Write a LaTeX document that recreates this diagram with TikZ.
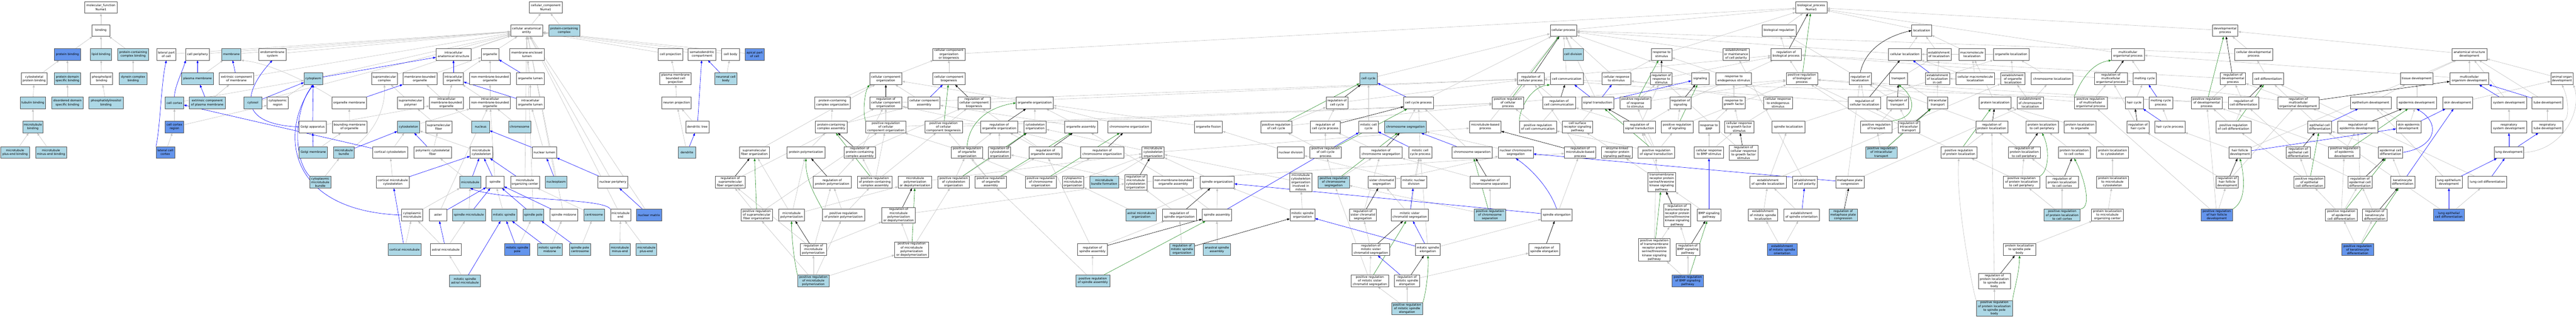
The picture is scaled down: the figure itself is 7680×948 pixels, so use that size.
\documentclass[tikz,border=0pt]{standalone}
\usepackage{fontspec}
\setmainfont{DejaVu Sans}
\usepackage{xcolor}
\usepackage{tikz}
\usetikzlibrary{shapes,arrows}
\usetikzlibrary{arrows.meta}
\definecolor{golightblue}{HTML}{ADD8E6}
\definecolor{gocornflower}{HTML}{6495ED}
\definecolor{isagray}{HTML}{C0C0C0}
\definecolor{posgreen}{HTML}{228B22}
\definecolor{termline}{HTML}{505050}
\pgfdeclarelayer{background}
\pgfsetlayers{background,main}
\begin{document}
\begin{tikzpicture}[x=1pt,y=-1pt]
        \tikzstyle{goterm} = [rectangle, draw=termline, line width=1pt, fill=white, align=center, inner xsep=1pt, inner ysep=2pt, minimum height=35pt, font=\fontsize{9}{11}\selectfont]
        \tikzstyle{golight} = [goterm, fill=golightblue]
        \tikzstyle{gocorn} = [goterm, fill=gocornflower]
        \tikzstyle{isa} = [draw=isagray, line width=0.9pt, -{Triangle[length=8pt,width=6pt]}]
        \tikzstyle{partof} = [isa, draw=blue]
        \tikzstyle{regl} = [isa, draw=black]
        \tikzstyle{posregl} = [isa, draw=posgreen]
        \tikzset{wd/.style={minimum width=#1pt}}
        \useasboundingbox (0,0) rectangle (7680,948);

        \node [goterm, wd=96] (mf) at (301,22) {molecular\_function\\Numa1};
        \node [goterm, wd=53] (binding) at (301,91) {binding};
        \node [gocorn, wd=77] (protbind) at (201,162) {protein binding};
        \node [golight, wd=63] (lipidbind) at (301,162) {lipid binding};
        \node [golight, wd=92] (pccbind) at (397,162) {protein-containing\\complex binding};
        \node [goterm, wd=76] (cytoprotbind) at (102,235) {cytoskeletal\\protein binding};
        \node [golight, wd=78] (pdsb) at (201,235) {protein domain\\specific binding};
        \node [goterm, wd=66] (phosphbind) at (303,235) {phospholipid\\binding};
        \node [golight, wd=82] (dyneinbind) at (397,235) {dynein complex\\binding};
        \node [golight, wd=75] (tubbind) at (98,307) {tubulin binding};
        \node [golight, wd=94] (ddsb) at (201,307) {disordered domain\\specific binding};
        \node [golight, wd=102] (pibind) at (316,307) {phosphatidylinositol\\binding};
        \node [golight, wd=61] (mtbind) at (98,379) {microtubule\\binding};
        \node [golight, wd=85] (mtplus) at (45,455) {microtubule\\plus-end binding};
        \node [golight, wd=92] (mtminus) at (152,455) {microtubule\\minus-end binding};

        \node [goterm, wd=97] (cc) at (1627,22) {cellular\_component\\Numa1};
        \node [goterm, wd=95] (cae) at (1570,91) {cellular anatomical\\entity};
        \node [golight, wd=92] (pcc) at (1682,91) {protein-containing\\complex};
        \node [goterm, wd=57] (lateral) at (496,162) {lateral part\\of cell};
        \node [goterm, wd=70] (cellperiph) at (589,162) {cell periphery};
        \node [golight, wd=57] (membrane) at (690,162) {membrane};
        \node [goterm, wd=81] (endomem) at (812,162) {endomembrane\\system};
        \node [goterm, wd=104] (ias) at (1352,162) {intracellular\\anatomical structure};
        \node [goterm, wd=52] (organelle) at (1461,162) {organelle};
        \node [goterm, wd=102] (mel) at (1571,162) {membrane-enclosed\\lumen};
        \node [goterm, wd=73] (cellproj) at (1999,162) {cell projection};
        \node [goterm, wd=83] (somato) at (2093,162) {somatodendritic\\compartment};
        \node [goterm, wd=53] (cellbody) at (2178,162) {cell body};
        \node [gocorn, wd=56] (apical) at (2250,162) {apical part\\of cell};
        \node [golight, wd=95] (plasmamem) at (589,235) {plasma membrane};
        \node [goterm, wd=102] (extrmem) at (705,235) {extrinsic component\\of membrane};
        \node [golight, wd=55] (cytoplasm) at (934,235) {cytoplasm};
        \node [goterm, wd=77] (supramolcomplex) at (1146,235) {supramolecular\\complex};
        \node [goterm, wd=102] (mbo) at (1252,235) {membrane-bounded\\organelle};
        \node [goterm, wd=60] (intraorg) at (1352,235) {intracellular\\organelle};
        \node [goterm, wd=121] (nmbo) at (1461,235) {non-membrane-bounded\\organelle};
        \node [goterm, wd=82] (orglumen) at (1581,235) {organelle lumen};
        \node [goterm, wd=94] (pmbcp) at (2014,235) {plasma membrane\\bounded cell\\projection};
        \node [golight, wd=67] (neuronalcb) at (2164,235) {neuronal cell\\body};
        \node [golight, wd=55] (cellcortex) at (520,307) {cell cortex};
        \node [golight, wd=108] (extrpm) at (618,307) {extrinsic component\\of plasma membrane};
        \node [golight, wd=53] (cytosol) at (754,307) {cytosol};
        \node [goterm, wd=63] (cytoregion) at (828,307) {cytoplasmic\\region};
        \node [goterm, wd=104] (orgmem) at (1041,307) {organelle membrane};
        \node [goterm, wd=78] (supramolpoly) at (1224,307) {supramolecular\\polymer};
        \node [goterm, wd=101] (imbo) at (1331,307) {intracellular\\membrane-bounded\\organelle};
        \node [goterm, wd=121] (inmbo) at (1461,307) {intracellular\\non-membrane-bounded\\organelle};
        \node [goterm, wd=82] (iorglumen) at (1581,307) {intracellular\\organelle lumen};
        \node [goterm, wd=88] (neuronproj) at (2017,307) {neuron projection};
        \node [gocorn, wd=55] (ccregion) at (520,379) {cell cortex\\region};
        \node [goterm, wd=81] (golgi) at (932,379) {Golgi apparatus};
        \node [goterm, wd=103] (boundmem) at (1042,379) {bounding membrane\\of organelle};
        \node [golight, wd=66] (cytoskeleton) at (1218,379) {cytoskeleton};
        \node [goterm, wd=78] (supramolfiber) at (1308,379) {supramolecular\\fiber};
        \node [golight, wd=53] (nucleus) at (1433,379) {nucleus};
        \node [golight, wd=66] (chromosome) at (1549,379) {chromosome};
        \node [goterm, wd=69] (dendtree) at (2079,379) {dendritic tree};
        \node [gocorn, wd=55] (latcortex) at (493,455) {lateral cell\\cortex};
        \node [golight, wd=85] (golgimem) at (934,455) {Golgi membrane};
        \node [golight, wd=61] (mtbundle) at (1025,455) {microtubule\\bundle};
        \node [goterm, wd=105] (corticalcytosk) at (1163,455) {cortical cytoskeleton};
        \node [goterm, wd=113] (polycytofiber) at (1290,455) {polymeric cytoskeletal\\fiber};
        \node [goterm, wd=67] (mtcytosk) at (1435,455) {microtubule\\cytoskeleton};
        \node [goterm, wd=73] (nuclumen) at (1623,455) {nuclear lumen};
        \node [golight, wd=53] (dendrite) at (2048,455) {dendrite};
        \node [golight, wd=63] (cytomtbundle) at (955,544) {cytoplasmic\\microtubule\\bundle};
        \node [goterm, wd=99] (corticalmtcytosk) at (1171,544) {cortical microtubule\\cytoskeleton};
        \node [golight, wd=62] (microtubule) at (1402,544) {microtubule};
        \node [goterm, wd=53] (spindle) at (1476,544) {spindle};
        \node [goterm, wd=86] (mtoc) at (1565,544) {microtubule\\organizing center};
        \node [golight, wd=65] (nucleoplasm) at (1658,544) {nucleoplasm};
        \node [goterm, wd=88] (nucperiph) at (1827,544) {nuclear periphery};
        \node [goterm, wd=63] (cytomt) at (1229,642) {cytoplasmic\\microtubule};
        \node [goterm, wd=53] (aster) at (1306,642) {aster};
        \node [golight, wd=99] (spindlemt) at (1398,642) {spindle microtubule};
        \node [golight, wd=75] (mitspindle) at (1503,642) {mitotic spindle};
        \node [golight, wd=62] (spindlepole) at (1590,642) {spindle pole};
        \node [goterm, wd=82] (spmidzone) at (1681,642) {spindle midzone};
        \node [golight, wd=61] (centrosome) at (1771,642) {centrosome};
        \node [goterm, wd=60] (mtend) at (1850,642) {microtubule\\end};
        \node [gocorn, wd=76] (nucmatrix) at (1935,642) {nuclear matrix};
        \node [golight, wd=99] (corticalmt) at (1206,745) {cortical microtubule};
        \node [goterm, wd=92] (astralmt) at (1329,745) {astral microtubule};
        \node [gocorn, wd=75] (mspole) at (1542,745) {mitotic spindle\\pole};
        \node [golight, wd=74] (msmidzone) at (1639,745) {mitotic spindle\\midzone};
        \node [golight, wd=62] (spcentrosome) at (1729,745) {spindle pole\\centrosome};
        \node [golight, wd=61] (mtminusend) at (1848,745) {microtubule\\minus-end};
        \node [golight, wd=62] (mtplusend) at (1927,745) {microtubule\\plus-end};
        \node [golight, wd=92] (msastralmt) at (1386,838) {mitotic spindle\\astral microtubule};

        \node [goterm, wd=96] (ccob) at (2829,162) {cellular component\\organization\\or biogenesis};
        \node [goterm, wd=96] (cco) at (2641,235) {cellular component\\organization};
        \node [goterm, wd=96] (ccb) at (2829,235) {cellular component\\biogenesis};
        \node [goterm, wd=107] (pcco) at (2482,307) {protein-containing\\complex organization};
        \node [goterm, wd=96] (regcco) at (2641,307) {regulation of\\cellular component\\organization};
        \node [goterm, wd=95] (cca) at (2755,307) {cellular component\\assembly};
        \node [goterm, wd=96] (regccb) at (2904,307) {regulation of\\cellular component\\biogenesis};
        \node [goterm, wd=111] (orgorg) at (3085,307) {organelle organization};
        \node [goterm, wd=94] (pcca) at (2478,379) {protein-containing\\complex assembly};
        \node [goterm, wd=120] (poscco) at (2641,379) {positive regulation\\of cellular\\component organization};
        \node [goterm, wd=112] (posccb) at (2813,379) {positive regulation\\of cellular\\component biogenesis};
        \node [goterm, wd=111] (regorgorg) at (2979,379) {regulation of\\organelle organization};
        \node [goterm, wd=66] (cytoskorg) at (3086,379) {cytoskeleton\\organization};
        \node [goterm, wd=99] (orgassembly) at (3223,379) {organelle assembly};
        \node [goterm, wd=129] (chromorg) at (3367,379) {chromosome organization};
        \node [goterm, wd=83] (orgfission) at (3603,379) {organelle fission};
        \node [goterm, wd=93] (posregcc) at (3805,379) {positive regulation\\of cell cycle};
        \node [goterm, wd=88] (sfo) at (2249,455) {supramolecular\\fiber organization};
        \node [goterm, wd=113] (protpoly) at (2403,455) {protein polymerization};
        \node [goterm, wd=94] (regpcca) at (2563,455) {regulation of\\protein-containing\\complex assembly};
        \node [goterm, wd=93] (posorgorg) at (2883,455) {positive regulation\\of organelle\\organization};
        \node [goterm, wd=66] (regcytoskorg) at (2980,455) {regulation of\\cytoskeleton\\organization};
        \node [goterm, wd=98] (regorgassem) at (3117,455) {regulation of\\organelle assembly};
        \node [goterm, wd=129] (regchromorg) at (3286,455) {regulation of\\chromosome organization};
        \node [goterm, wd=66] (mtcytoskorg) at (3438,455) {microtubule\\cytoskeleton\\organization};
        \node [goterm, wd=80] (nucdiv) at (3848,455) {nuclear division};
        \node [goterm, wd=89] (regsfo) at (2177,544) {regulation of\\supramolecular\\fiber organization};
        \node [goterm, wd=114] (regprotpoly) at (2481,544) {regulation of\\protein polymerization};
        \node [goterm, wd=104] (pospcca) at (2608,544) {positive regulation\\of protein-containing\\complex assembly};
        \node [goterm, wd=100] (mtpolydepoly) at (2728,544) {microtubule\\polymerization\\or depolymerization};
        \node [goterm, wd=94] (poscytoskorg) at (2843,544) {positive regulation\\of cytoskeleton\\organization};
        \node [goterm, wd=94] (posorgassem) at (2954,544) {positive regulation\\of organelle\\assembly};
        \node [goterm, wd=93] (poschromorg) at (3103,544) {positive regulation\\of chromosome\\organization};
        \node [goterm, wd=64] (cytomtorg) at (3199,544) {cytoplasmic\\microtubule\\organization};
        \node [golight, wd=86] (mtbundleform) at (3292,544) {microtubule\\bundle formation};
        \node [goterm, wd=66] (regmtcytoskorg) at (3386,544) {regulation of\\microtubule\\cytoskeleton\\organization};
        \node [goterm, wd=121] (nmboassem) at (3498,544) {non-membrane-bounded\\organelle assembly};
        \node [goterm, wd=101] (spindleorg) at (3629,544) {spindle organization};
        \node [goterm, wd=94] (possfo) at (2256,642) {positive regulation\\of supramolecular\\fiber organization};
        \node [goterm, wd=77] (mtpoly) at (2360,642) {microtubule\\polymerization};
        \node [goterm, wd=126] (posprotpoly) at (2515,642) {positive regulation\\of protein polymerization};
        \node [goterm, wd=100] (regmtpd) at (2679,642) {regulation of\\microtubule\\polymerization\\or depolymerization};
        \node [golight, wd=92] (astralmtorg) at (3402,642) {astral microtubule\\organization};
        \node [goterm, wd=102] (regspindleorg) at (3516,642) {regulation of\\spindle organization};
        \node [goterm, wd=88] (spindleassem) at (3628,642) {spindle assembly};
        \node [goterm, wd=77] (regmtpoly) at (2425,745) {regulation of\\microtubule\\polymerization};
        \node [goterm, wd=101] (posmtpd) at (2718,745) {positive regulation\\of microtubule\\polymerization\\or depolymerization};
        \node [goterm, wd=88] (regspindleassem) at (3257,745) {regulation of\\spindle assembly};
        \node [golight, wd=74] (regmsorg) at (3524,745) {regulation of\\mitotic spindle\\organization};
        \node [golight, wd=81] (anastral) at (3628,745) {anastral spindle\\assembly};
        \node [golight, wd=94] (posmtpoly) at (2425,838) {positive regulation\\of microtubule\\polymerization};
        \node [golight, wd=101] (posspindleassem) at (3258,838) {positive regulation\\of spindle assembly};

        \node [golight, wd=53] (cellcycle) at (4080,235) {cell cycle};
        \node [goterm, wd=65] (regcc) at (3986,307) {regulation of\\cell cycle};
        \node [goterm, wd=88] (ccp) at (4229,307) {cell cycle process};
        \node [goterm, wd=94] (posregcellproc) at (4496,307) {positive regulation\\of cellular\\process};
        \node [goterm, wd=88] (regccp) at (3951,379) {regulation of\\cell cycle process};
        \node [goterm, wd=57] (mitcc) at (4080,379) {mitotic cell\\cycle};
        \node [golight, wd=125] (chromseg) at (4190,379) {chromosome segregation};
        \node [goterm, wd=94] (mtbp) at (4428,379) {microtubule-based\\process};
        \node [goterm, wd=94] (posregccp) at (3952,455) {positive regulation\\of cell cycle\\process};
        \node [goterm, wd=126] (regchromseg) at (4117,455) {regulation of\\chromosome segregation};
        \node [goterm, wd=69] (mitccp) at (4234,455) {mitotic cell\\cycle process};
        \node [goterm, wd=120] (chromsep) at (4389,455) {chromosome separation};
        \node [goterm, wd=104] (nucchromseg) at (4519,455) {nuclear chromosome\\segregation};
        \node [goterm, wd=66] (mtcytoskorgmit) at (3878,544) {microtubule\\cytoskeleton\\organization\\involved in\\mitosis};
        \node [golight, wd=93] (posregchromseg) at (3976,544) {positive regulation\\of chromosome\\segregation};
        \node [goterm, wd=81] (scs) at (4119,544) {sister chromatid\\segregation};
        \node [goterm, wd=76] (mitnucdiv) at (4215,544) {mitotic nuclear\\division};
        \node [goterm, wd=120] (regchromsep) at (4442,544) {regulation of\\chromosome separation};
        \node [goterm, wd=74] (msorg) at (3883,642) {mitotic spindle\\organization};
        \node [goterm, wd=81] (regscs) at (4063,642) {regulation of\\sister chromatid\\segregation};
        \node [goterm, wd=111] (mscs) at (4203,642) {mitotic sister\\chromatid segregation};
        \node [golight, wd=94] (posregchromsep) at (4442,642) {positive regulation\\of chromosome\\separation};
        \node [goterm, wd=112] (regmscs) at (4087,745) {regulation of\\mitotic sister\\chromatid segregation};
        \node [goterm, wd=74] (mse) at (4257,745) {mitotic spindle\\elongation};
        \node [goterm, wd=112] (posregmscs) at (4084,838) {positive regulation\\of mitotic sister\\chromatid segregation};
        \node [goterm, wd=75] (regmse) at (4195,838) {regulation of\\mitotic spindle\\elongation};
        \node [golight, wd=93] (posregmse) at (4195,921) {positive regulation\\of mitotic spindle\\elongation};

        \node [goterm, wd=79] (cellproc) at (4661,91) {cellular process};
        \node [golight, wd=60] (celldiv) at (4690,162) {cell division};
        \node [goterm, wd=61] (resp) at (4954,162) {response to\\stimulus};
        \node [goterm, wd=79] (regcellproc) at (4564,235) {regulation of\\cellular process};
        \node [goterm, wd=99] (cellcomm) at (4671,235) {cell communication};
        \node [goterm, wd=86] (cellresp) at (4819,235) {cellular response\\to stimulus};
        \node [goterm, wd=65] (regresp) at (4953,235) {regulation of\\response to\\stimulus};
        \node [goterm, wd=52] (signaling) at (5069,235) {signaling};
        \node [goterm, wd=106] (respendo) at (5169,235) {response to\\endogenous stimulus};
        \node [goterm, wd=99] (regcellcomm) at (4648,307) {regulation of\\cell communication};
        \node [goterm, wd=95] (sigtrans) at (4763,307) {signal transduction};
        \node [goterm, wd=93] (posregresp) at (4876,307) {positive regulation\\of response\\to stimulus};
        \node [goterm, wd=64] (regsig) at (5010,307) {regulation of\\signaling};
        \node [goterm, wd=68] (rgf) at (5169,307) {response to\\growth factor};
        \node [goterm, wd=110] (posregcellcomm) at (4585,379) {positive regulation\\of cell communication};
        \node [goterm, wd=91] (csrsp) at (4703,379) {cell surface\\receptor signaling\\pathway};
        \node [goterm, wd=95] (regsigtrans) at (4888,379) {regulation of\\signal transduction};
        \node [goterm, wd=94] (posregsig) at (5000,379) {positive regulation\\of signaling};
        \node [goterm, wd=61] (respbmp) at (5095,379) {response to\\BMP};
        \node [goterm, wd=94] (regmtbp) at (4711,455) {regulation of\\microtubule-based\\process};
        \node [goterm, wd=92] (elrpsp) at (4821,455) {enzyme-linked\\receptor protein\\signaling pathway};
        \node [goterm, wd=108] (posregsigtrans) at (4938,455) {positive regulation\\of signal transduction};
        \node [goterm, wd=87] (cellrespbmp) at (5095,455) {cellular response\\to BMP stimulus};
        \node [goterm, wd=83] (tmrpstk) at (4954,544) {transmembrane\\receptor protein\\serine/threonine\\kinase signaling\\pathway};
        \node [goterm, wd=92] (spindleelong) at (4641,642) {spindle elongation};
        \node [goterm, wd=81] (regtmrpstk) at (5000,643) {regulation of\\transmembrane\\receptor protein\\serine/threonine\\kinase signaling\\pathway};
        \node [goterm, wd=70] (bmpsp) at (5095,642) {BMP signaling\\pathway};
        \node [goterm, wd=92] (regspindleelong) at (4604,745) {regulation of\\spindle elongation};
        \node [goterm, wd=94] (posregtmrpstk) at (4932,746) {positive regulation\\of transmembrane\\receptor protein\\serine/threonine\\kinase signaling\\pathway};
        \node [goterm, wd=71] (regbmp) at (5032,745) {regulation of\\BMP signaling\\pathway};
        \node [gocorn, wd=94] (posregbmp) at (5032,838) {positive regulation\\of BMP signaling\\pathway};

        \node [goterm, wd=93] (bp) at (5400,22) {biological\_process\\Numa1};
        \node [goterm, wd=101] (bioreg) at (5304,91) {biological regulation};
        \node [goterm, wd=59] (localization) at (5729,91) {localization};
        \node [goterm, wd=79] (eomcp) at (5176,162) {establishment\\or maintenance\\of cell polarity};
        \node [goterm, wd=90] (regbp) at (5325,162) {regulation of\\biological process};
        \node [goterm, wd=98] (cellloc) at (5679,162) {cellular localization};
        \node [goterm, wd=71] (estloc) at (5781,162) {establishment\\of localization};
        \node [goterm, wd=94] (posregbp) at (5372,235) {positive regulation\\of biological\\process};
        \node [goterm, wd=65] (regloc) at (5546,235) {regulation of\\localization};
        \node [goterm, wd=53] (transport) at (5660,235) {transport};
        \node [goterm, wd=72] (estlocincell) at (5776,235) {establishment\\of localization\\in cell};
        \node [goterm, wd=86] (crespendo) at (5301,307) {cellular response\\to endogenous\\stimulus};
        \node [goterm, wd=97] (regcellloc) at (5559,307) {regulation of\\cellular localization};
        \node [goterm, wd=65] (regtransport) at (5657,307) {regulation of\\transport};
        \node [goterm, wd=60] (intratransport) at (5777,307) {intracellular\\transport};
        \node [goterm, wd=87] (crgf) at (5185,379) {cellular response\\to growth factor\\stimulus};
        \node [goterm, wd=97] (spindleloc) at (5332,379) {spindle localization};
        \node [goterm, wd=93] (posregtransport) at (5594,379) {positive regulation\\of transport};
        \node [goterm, wd=64] (regintratransport) at (5691,379) {regulation of\\intracellular\\transport};
        \node [goterm, wd=85] (regcrgf) at (5198,456) {regulation of\\cellular response\\to growth factor\\stimulus};
        \node [golight, wd=94] (posregintratransport) at (5609,455) {positive regulation\\of intracellular\\transport};
        \node [goterm, wd=110] (estspindleloc) at (5271,544) {establishment\\of spindle localization};
        \node [goterm, wd=73] (estcellpol) at (5381,544) {establishment\\of cell polarity};
        \node [goterm, wd=85] (mpc) at (5515,544) {metaphase plate\\congression};
        \node [goterm, wd=88] (estmsloc) at (5256,642) {establishment\\of mitotic spindle\\localization};
        \node [goterm, wd=106] (estspindleorient) at (5371,642) {establishment\\of spindle orientation};
        \node [golight, wd=84] (regmpc) at (5495,642) {regulation of\\metaphase plate\\congression};
        \node [gocorn, wd=89] (estmsorient) at (5313,745) {establishment\\of mitotic spindle\\orientation};

        \node [goterm, wd=78] (macroloc) at (5879,162) {macromolecule\\localization};
        \node [goterm, wd=107] (orgloc) at (5996,162) {organelle localization};
        \node [goterm, wd=98] (mop) at (6344,162) {multicellular\\organismal process};
        \node [goterm, wd=116] (cmacroloc) at (5889,235) {cellular macromolecule\\localization};
        \node [goterm, wd=73] (estorgloc) at (6001,235) {establishment\\of organelle\\localization};
        \node [goterm, wd=125] (chromloc) at (6118,235) {chromosome localization};
        \node [goterm, wd=98] (regmop) at (6293,235) {regulation of\\multicellular\\organismal process};
        \node [goterm, wd=70] (molting) at (6394,235) {molting cycle};
        \node [goterm, wd=95] (protloc) at (5948,307) {protein localization};
        \node [goterm, wd=79] (estchromloc) at (6053,307) {establishment\\of chromosome\\localization};
        \node [goterm, wd=98] (posregmop) at (6233,307) {positive regulation\\of multicellular\\organismal process};
        \node [goterm, wd=53] (haircycle) at (6363,307) {hair cycle};
        \node [goterm, wd=95] (regprotloc) at (5938,379) {regulation of\\protein localization};
        \node [goterm, wd=96] (plcp) at (6088,379) {protein localization\\to cell periphery};
        \node [goterm, wd=96] (plorg) at (6201,379) {protein localization\\to organelle};
        \node [goterm, wd=65] (reghc) at (6374,379) {regulation of\\hair cycle};
        \node [goterm, wd=108] (posregprotloc) at (5840,455) {positive regulation\\of protein localization};
        \node [goterm, wd=95] (regplcp) at (6035,455) {regulation of\\protein localization\\to cell periphery};
        \node [goterm, wd=96] (plcc) at (6184,455) {protein localization\\to cell cortex};
        \node [goterm, wd=96] (plcytosk) at (6298,455) {protein localization\\to cytoskeleton};
        \node [goterm, wd=108] (posregplcp) at (6027,544) {positive regulation\\of protein localization\\to cell periphery};
        \node [goterm, wd=96] (regplcc) at (6148,544) {regulation of\\protein localization\\to cell cortex};
        \node [goterm, wd=96] (plmtcytosk) at (6298,544) {protein localization\\to microtubule\\cytoskeleton};
        \node [golight, wd=108] (posregplcc) at (6148,642) {positive regulation\\of protein localization\\to cell cortex};
        \node [goterm, wd=96] (plmtoc) at (6283,642) {protein localization\\to microtubule\\organizing center};
        \node [goterm, wd=96] (plspb) at (6021,745) {protein localization\\to spindle pole\\body};
        \node [goterm, wd=95] (regplspb) at (5946,839) {regulation of\\protein localization\\to spindle pole\\body};
        \node [golight, wd=108] (posregplspb) at (5946,920) {positive regulation\\of protein localization\\to spindle pole\\body};

        \node [goterm, wd=76] (devproc) at (6634,91) {developmental\\process};
        \node [goterm, wd=114] (celldevproc) at (6719,162) {cellular developmental\\process};
        \node [goterm, wd=76] (regdevproc) at (6657,235) {regulation of\\developmental\\process};
        \node [goterm, wd=92] (celldiff) at (6762,235) {cell differentiation};
        \node [goterm, wd=70] (mcp) at (6442,307) {molting cycle\\process};
        \node [goterm, wd=93] (posregdevproc) at (6579,307) {positive regulation\\of developmental\\process};
        \node [goterm, wd=92] (regcelldiff) at (6689,307) {regulation of\\cell differentiation};
        \node [goterm, wd=123] (regmod) at (6852,307) {regulation of\\multicellular\\organismal development};
        \node [goterm, wd=122] (epidev) at (7068,307) {epithelium development};
        \node [goterm, wd=90] (hcp) at (6469,379) {hair cycle process};
        \node [goterm, wd=104] (posregcelldiff) at (6659,379) {positive regulation\\of cell differentiation};
        \node [goterm, wd=71] (ecd) at (6916,379) {epithelial cell\\differentiation};
        \node [goterm, wd=119] (regepidev) at (7029,379) {regulation of\\epidermis development};
        \node [goterm, wd=67] (hfd) at (6678,455) {hair follicle\\development};
        \node [goterm, wd=72] (regecd) at (6852,455) {regulation of\\epithelial cell\\differentiation};
        \node [goterm, wd=94] (posregepidev) at (6989,455) {positive regulation\\of epidermis\\development};
        \node [goterm, wd=66] (reghfd) at (6640,544) {regulation of\\hair follicle\\development};
        \node [goterm, wd=93] (posregecd) at (6885,544) {positive regulation\\of epithelial\\cell differentiation};
        \node [goterm, wd=73] (regepicd) at (7036,544) {regulation of\\epidermal cell\\differentiation};
        \node [gocorn, wd=94] (posreghfd) at (6609,642) {positive regulation\\of hair follicle\\development};
        \node [goterm, wd=94] (posregepicd) at (6980,642) {positive regulation\\of epidermal\\cell differentiation};
        \node [gocorn, wd=95] (posregkd) at (7029,745) {positive regulation\\of keratinocyte\\differentiation};

        \node [goterm, wd=104] (asd) at (7362,162) {anatomical structure\\development};
        \node [goterm, wd=98] (tissuedev) at (7205,235) {tissue development};
        \node [goterm, wd=116] (mod) at (7362,235) {multicellular\\organism development};
        \node [goterm, wd=67] (aod) at (7638,235) {animal organ\\development};
        \node [goterm, wd=117] (epidermisdev) at (7205,307) {epidermis development};
        \node [goterm, wd=90] (skindev) at (7327,307) {skin development};
        \node [goterm, wd=105] (sysdev) at (7480,307) {system development};
        \node [goterm, wd=92] (tubedev) at (7595,307) {tube development};
        \node [goterm, wd=74] (skinepidev) at (7181,379) {skin epidermis\\development};
        \node [goterm, wd=105] (rsd) at (7480,379) {respiratory\\system development};
        \node [goterm, wd=92] (rtd) at (7595,379) {respiratory\\tube development};
        \node [goterm, wd=72] (epicd) at (7127,455) {epidermal cell\\differentiation};
        \node [goterm, wd=89] (lungdev) at (7480,455) {lung development};
        \node [goterm, wd=72] (kd) at (7163,544) {keratinocyte\\differentiation};
        \node [goterm, wd=79] (lepd) at (7301,544) {lung epithelium\\development};
        \node [goterm, wd=115] (lcd) at (7416,544) {lung cell differentiation};
        \node [goterm, wd=73] (regkd) at (7080,642) {regulation of\\keratinocyte\\differentiation};
        \node [gocorn, wd=92] (lecd) at (7301,642) {lung epithelial\\cell differentiation};

        \begin{pgfonlayer}{background}
        \path [isa] (binding) -- (mf);
        \path [isa] (protbind) -- (binding);
        \path [isa] (lipidbind) -- (binding);
        \path [isa] (pccbind) -- (binding);
        \path [isa] (cytoprotbind) -- (protbind);
        \path [isa] (pdsb) -- (protbind);
        \path [isa] (phosphbind) -- (lipidbind);
        \path [isa] (dyneinbind) -- (pccbind);
        \path [isa] (tubbind) -- (cytoprotbind);
        \path [isa] (ddsb) -- (pdsb);
        \path [isa] (pibind) -- (phosphbind);
        \path [isa] (mtbind) -- (tubbind);
        \path [isa] (mtplus) -- (mtbind);
        \path [isa] (mtminus) -- (mtbind);

        \path [isa] (cae) -- (cc);
        \path [isa] (pcc) -- (cc);
        \path [isa] (lateral) -- (cae);
        \path [isa] (cellperiph) -- (cae);
        \path [isa] (membrane) -- (cae);
        \path [isa] (endomem) -- (cae);
        \path [isa] (extrmem) -- (cae);
        \path [isa] (cytoplasm) -- (cae);
        \path [isa] (cytosol) -- (cae);
        \path [isa] (supramolcomplex) -- (cae);
        \path [isa] (ias) -- (cae);
        \path [isa] (organelle) -- (cae);
        \path [isa] (mel) -- (cae);
        \path [isa] (mtoc) -- (cae);
        \path [isa] (nucleoplasm) -- (cae);
        \path [isa] (nucperiph) -- (cae);
        \path [isa] (spindlepole) -- (cae);
        \path [isa] (spmidzone) -- (cae);
        \path [isa] (mtend) -- (cae);
        \path [isa] (nucmatrix) -- (cae);
        \path [isa] (cellproj) -- (cae);
        \path [isa] (somato) -- (cae);
        \path [isa] (cellbody) -- (cae);
        \path [isa] (apical) -- (cae);
        \path [isa] (plasmamem) -- (membrane);
        \path [isa] (cellcortex) -- (cytoplasm);
        \path [isa] (ccregion) -- (cellcortex);
        \path [isa] (ccregion) -- (cytoregion);
        \path [isa] (latcortex) -- (ccregion);
        \path [isa] (extrpm) -- (extrmem);
        \path [isa] (cytoregion) -- (cytoplasm);
        \path [isa] (golgi) -- (imbo);
        \path [isa] (golgimem) -- (boundmem);
        \path [isa] (boundmem) -- (orgmem);
        \path [isa] (orgmem.north west) .. controls (960,270) and (820,190) .. (membrane.south east);
        \path [isa] (mbo) -- (organelle);
        \path [isa] (supramolpoly) -- (supramolcomplex);
        \path [isa] (supramolfiber) -- (supramolpoly);
        \path [isa] (cytoskeleton) -- (inmbo);
        \path [isa] (mtbundle.north east) .. controls (1110,400) and (1150,330) .. (supramolcomplex.south);
        \path [isa] (polycytofiber) -- (supramolfiber);
        \path [isa] (corticalcytosk) -- (cytoskeleton);
        \path [isa] (cytomtbundle) -- (mtbundle);
        \path [isa] (corticalmtcytosk) -- (corticalcytosk);
        \path [isa] (cytomt) -- (microtubule);
        \path [isa] (corticalmt) -- (cytomt);
        \path [isa] (aster) -- (inmbo);
        \path [isa] (astralmt) -- (spindlemt);
        \path [isa] (astralmt) -- (cytomt);
        \path [isa] (msastralmt) -- (astralmt);
        \path [isa] (intraorg) -- (organelle);
        \path [isa] (nmbo) -- (organelle);
        \path [isa] (orglumen) -- (mel);
        \path [isa] (imbo) -- (intraorg);
        \path [isa] (imbo) -- (mbo);
        \path [isa] (inmbo) -- (intraorg);
        \path [isa] (inmbo) -- (nmbo);
        \path [isa] (iorglumen) -- (orglumen);
        \path [isa] (nucleus) -- (imbo);
        \path [isa] (chromosome) -- (inmbo);
        \path [isa] (mtcytosk) -- (cytoskeleton);
        \path [isa] (nuclumen) -- (iorglumen);
        \path [isa] (microtubule) -- (polycytofiber);
        \path [isa] (spindle) -- (inmbo);
        \path [isa] (spindlemt) -- (microtubule);
        \path [isa] (mitspindle) -- (spindle);
        \path [isa] (centrosome) -- (mtoc);
        \path [isa] (mspole) -- (spindlepole);
        \path [isa] (msmidzone) -- (spmidzone);
        \path [isa] (spcentrosome) -- (centrosome);
        \path [isa] (mtminusend) -- (mtend);
        \path [isa] (mtplusend) -- (mtend);
        \path [isa] (pmbcp) -- (cellproj);
        \path [isa] (neuronproj) -- (pmbcp);
        \path [isa] (dendtree) -- (neuronproj);
        \path [isa] (dendrite) -- (neuronproj);
        \path [isa] (neuronalcb) -- (cellbody);

        \path [partof] (plasmamem) -- (cellperiph);
        \path [partof] (cellcortex.north) .. controls (520,260) and (545,210) .. (cellperiph.south west);
        \path [partof] (latcortex.north west) .. controls (478,380) and (480,250) .. (lateral.south);
        \path [partof] (corticalcytosk) -- (cellcortex);
        \path [partof] (extrmem) -- (membrane);
        \path [partof] (extrpm) -- (plasmamem);
        \path [partof] (cytoplasm) -- (ias);
        \path [partof] (cytosol) -- (cytoplasm);
        \path [partof] (golgi) -- (cytoplasm);
        \path [partof] (golgi.west) .. controls (700,370) and (730,270) .. (endomem.south);
        \path [partof] (golgimem) -- (golgi);
        \path [partof] (orgmem) -- (mbo);
        \path [partof] (mtbundle) -- (cytoskeleton);
        \path [partof] (polycytofiber) -- (cytoskeleton);
        \path [partof] (cytomtbundle.north west) .. controls (870,470) and (880,320) .. (cytoplasm.south);
        \path [partof] (corticalmtcytosk) -- (mtcytosk);
        \path [partof] (cytomt.west) .. controls (860,630) and (830,400) .. (cytoplasm.south);
        \path [partof] (corticalmt) -- (corticalmtcytosk);
        \path [partof] (aster) -- (spindle);
        \path [partof] (astralmt) -- (aster);
        \path [partof] (msastralmt) -- (mitspindle);
        \path [partof] (intraorg) -- (ias);
        \path [partof] (orglumen) -- (organelle);
        \path [partof] (iorglumen) -- (intraorg);
        \path [partof] (nuclumen) -- (nucleus);
        \path [partof] (microtubule) -- (mtcytosk);
        \path [partof] (spindle) -- (mtcytosk);
        \path [partof] (mtoc) -- (mtcytosk);
        \path [partof] (nucleoplasm) -- (nuclumen);
        \path [partof] (nucperiph) -- (nuclumen);
        \path [partof] (spindlemt) -- (spindle);
        \path [partof] (spindlepole) -- (spindle);
        \path [partof] (spmidzone) -- (spindle);
        \path [partof] (mtend.north west) .. controls (1800,590) and (1500,600) .. (microtubule.south);
        \path [partof] (nucmatrix) -- (nucperiph);
        \path [partof] (mspole) -- (mitspindle);
        \path [partof] (msmidzone) -- (mitspindle);
        \path [partof] (spcentrosome) -- (spindlepole);
        \path [partof] (dendtree) -- (somato);
        \path [partof] (dendrite) -- (dendtree);
        \path [partof] (neuronalcb) -- (somato);

        \path [isa] (bioreg) -- (bp);
        \path [isa] (cellproc) -- (bp);
        \path [isa] (localization) -- (bp);
        \path [isa] (devproc) -- (bp);
        \path [isa] (mop) -- (bp);
        \path [isa] (resp) -- (bp);
        \path [isa] (ccob) -- (bp);
        \path [isa] (regbp) -- (bioreg);
        \path [isa] (posregbp) -- (regbp);
        \path [isa] (regcellproc) -- (regbp);
        \path [isa] (posregcellproc) -- (regcellproc);
        \path [isa] (posregcellproc) -- (posregbp);
        \path [isa] (cco) -- (ccob);
        \path [isa] (ccb) -- (ccob);
        \path [isa] (regcco) -- (regcellproc);
        \path [isa] (cca) -- (cco);
        \path [isa] (regccb) -- (regcellproc);
        \path [isa] (poscco) -- (regcco);
        \path [isa] (poscco) -- (posregcellproc);
        \path [isa] (posccb) -- (regccb);
        \path [isa] (posccb) -- (posregcellproc);
        \path [isa] (orgorg) -- (cco);
        \path [isa] (regorgorg) -- (regcco);
        \path [isa] (posorgorg) -- (regorgorg);
        \path [isa] (posorgorg) -- (poscco);
        \path [isa] (cytoskorg) -- (orgorg);
        \path [isa] (regcytoskorg) -- (regorgorg);
        \path [isa] (poscytoskorg) -- (regcytoskorg);
        \path [isa] (poscytoskorg) -- (posorgorg);
        \path [isa] (orgassembly) -- (orgorg);
        \path [isa] (orgassembly) -- (cca);
        \path [isa] (regorgassem) -- (regorgorg);
        \path [isa] (regorgassem) -- (regccb);
        \path [isa] (posorgassem) -- (regorgassem);
        \path [isa] (posorgassem) -- (posorgorg);
        \path [isa] (posorgassem) -- (posccb);
        \path [isa] (chromorg) -- (orgorg);
        \path [isa] (regchromorg) -- (regorgorg);
        \path [isa] (poschromorg) -- (regchromorg);
        \path [isa] (poschromorg) -- (posorgorg);
        \path [isa] (mtcytoskorg) -- (cytoskorg);
        \path [isa] (mtcytoskorg) -- (mtbp);
        \path [isa] (regmtcytoskorg) -- (regcytoskorg);
        \path [isa] (regmtcytoskorg) -- (regmtbp);
        \path [isa] (cytomtorg) -- (mtcytoskorg);
        \path [isa] (mtbundleform) -- (mtcytoskorg);
        \path [isa] (nmboassem) -- (orgassembly);
        \path [isa] (spindleorg) -- (mtcytoskorg);
        \path [isa] (spindleassem) -- (spindleorg);
        \path [isa] (spindleassem) -- (nmboassem);
        \path [isa] (pcco) -- (cco);
        \path [isa] (pcca) -- (pcco);
        \path [isa] (pcca) -- (cca);
        \path [isa] (protpoly) -- (pcca);
        \path [isa] (regpcca) -- (regcco);
        \path [isa] (regpcca) -- (regccb);
        \path [isa] (pospcca) -- (regpcca);
        \path [isa] (pospcca) -- (poscco);
        \path [isa] (pospcca) -- (posccb);
        \path [isa] (sfo) -- (cco);
        \path [isa] (regsfo) -- (regcco);
        \path [isa] (possfo) -- (regsfo);
        \path [isa] (possfo) -- (poscco);
        \path [isa] (regprotpoly) -- (regpcca);
        \path [isa] (posprotpoly) -- (regprotpoly);
        \path [isa] (posprotpoly) -- (pospcca);
        \path [isa] (mtpoly) -- (protpoly);
        \path [isa] (mtpoly) -- (mtpolydepoly);
        \path [isa] (mtpoly) -- (sfo);
        \path [isa] (regmtpoly) -- (regprotpoly);
        \path [isa] (regmtpoly) -- (regmtpd);
        \path [isa] (regmtpoly) -- (regsfo);
        \path [isa] (posmtpoly) -- (regmtpoly);
        \path [isa] (posmtpoly) -- (posprotpoly);
        \path [isa] (posmtpoly) -- (possfo);
        \path [isa] (posmtpoly) -- (posmtpd);
        \path [isa] (mtpolydepoly) -- (mtcytoskorg);
        \path [isa] (regmtpd) -- (regmtcytoskorg);
        \path [isa] (posmtpd) -- (regmtpd);
        \path [isa] (posmtpd) -- (poscytoskorg);
        \path [isa] (regspindleorg) -- (regmtcytoskorg);
        \path [isa] (regspindleassem) -- (regspindleorg);
        \path [isa] (regspindleassem) -- (regorgassem);
        \path [isa] (posspindleassem) -- (regspindleassem);
        \path [isa] (posspindleassem) -- (posorgassem);
        \path [isa] (regmsorg) -- (regspindleorg);
        \path [isa] (anastral) -- (spindleassem);
        \path [isa] (astralmtorg) -- (cytomtorg);
        \path [isa] (astralmtorg) -- (spindleorg);
        \path [isa] (orgfission) -- (orgorg);
        \path [isa] (nucdiv) -- (orgfission);
        \path [isa] (cellcycle) -- (cellproc);
        \path [isa] (regcc) -- (regcellproc);
        \path [isa] (posregcc) -- (regcc);
        \path [isa] (posregcc) -- (posregcellproc);
        \path [isa] (ccp) -- (cellproc);
        \path [isa] (regccp) -- (regcc);
        \path [isa] (posregccp) -- (regccp);
        \path [isa] (posregccp) -- (posregcc);
        \path [isa] (mitcc) -- (cellcycle);
        \path [isa] (chromseg) -- (ccp);
        \path [isa] (mtbp) -- (cellproc);
        \path [isa] (regchromseg) -- (regccp);
        \path [isa] (mitccp) -- (ccp);
        \path [isa] (chromsep) -- (ccp);
        \path [isa] (nucchromseg) -- (chromseg);
        \path [isa] (mtcytoskorgmit) -- (mtcytoskorg);
        \path [isa] (posregchromseg) -- (regchromseg);
        \path [isa] (posregchromseg) -- (posregccp);
        \path [isa] (scs) -- (nucchromseg);
        \path [isa] (mitnucdiv) -- (nucdiv);
        \path [isa] (mitnucdiv) -- (mitccp);
        \path [isa] (regchromsep) -- (regchromseg);
        \path [isa] (msorg) -- (spindleorg);
        \path [isa] (msorg) -- (mtcytoskorgmit);
        \path [isa] (regscs) -- (regchromseg);
        \path [isa] (mscs) -- (scs);
        \path [isa] (mscs) -- (mitccp);
        \path [isa] (posregchromsep) -- (regchromsep);
        \path [isa] (posregchromsep) -- (posregchromseg);
        \path [isa] (regmscs) -- (regscs);
        \path [isa] (mse) -- (spindleelong);
        \path [isa] (mse) -- (mitccp);
        \path [isa] (posregmscs) -- (regmscs);
        \path [isa] (posregmscs) -- (posregchromseg);
        \path [isa] (regmse) -- (regspindleelong);
        \path [isa] (posregmse) -- (regmse);
        \path [isa] (posregmse) -- (posregmscs);
        \path [isa] (celldiv) -- (cellproc);
        \path [isa] (cellcomm) -- (cellproc);
        \path [isa] (regcellcomm) -- (regcellproc);
        \path [isa] (posregcellcomm) -- (regcellcomm);
        \path [isa] (posregcellcomm) -- (posregcellproc);
        \path [isa] (sigtrans) -- (cellproc);
        \path [isa] (cellresp) -- (resp);
        \path [isa] (cellresp) -- (cellproc);
        \path [isa] (regresp) -- (regbp);
        \path [isa] (posregresp) -- (regresp);
        \path [isa] (posregresp) -- (posregbp);
        \path [isa] (signaling) -- (cellproc);
        \path [isa] (regsig) -- (regbp);
        \path [isa] (posregsig) -- (regsig);
        \path [isa] (posregsig) -- (posregbp);
        \path [isa] (regsigtrans) -- (regsig);
        \path [isa] (regsigtrans) -- (regcellcomm);
        \path [isa] (regsigtrans) -- (regresp);
        \path [isa] (posregsigtrans) -- (regsigtrans);
        \path [isa] (posregsigtrans) -- (posregsig);
        \path [isa] (posregsigtrans) -- (posregresp);
        \path [isa] (posregsigtrans) -- (posregcellcomm);
        \path [isa] (csrsp) -- (sigtrans);
        \path [isa] (elrpsp) -- (csrsp);
        \path [isa] (tmrpstk) -- (elrpsp);
        \path [isa] (regtmrpstk) -- (regsigtrans);
        \path [isa] (posregtmrpstk) -- (regtmrpstk);
        \path [isa] (posregtmrpstk) -- (posregsigtrans);
        \path [isa] (bmpsp) -- (tmrpstk);
        \path [isa] (cellrespbmp) -- (respbmp);
        \path [isa] (cellrespbmp) -- (crgf);
        \path [isa] (respbmp) -- (rgf);
        \path [isa] (regbmp) -- (regtmrpstk);
        \path [isa] (posregbmp) -- (regbmp);
        \path [isa] (posregbmp) -- (posregtmrpstk);
        \path [isa] (regmtbp) -- (regcellproc);
        \path [isa] (regspindleelong) -- (regmtbp);
        \path [isa] (respendo) -- (resp);
        \path [isa] (rgf) -- (respendo);
        \path [isa] (crespendo) -- (respendo);
        \path [isa] (crespendo) -- (cellresp);
        \path [isa] (crgf) -- (rgf);
        \path [isa] (crgf) -- (crespendo);
        \path [isa] (regcrgf) -- (regresp);
        \path [isa] (eomcp) -- (cellproc);
        \path [isa] (cellloc) -- (localization);
        \path [isa] (cellloc) -- (cellproc);
        \path [isa] (estloc) -- (localization);
        \path [isa] (regloc) -- (bioreg);
        \path [isa] (transport) -- (estloc);
        \path [isa] (estlocincell) -- (estloc);
        \path [isa] (regcellloc) -- (regloc);
        \path [isa] (regcellloc) -- (regcellproc);
        \path [isa] (regtransport) -- (regloc);
        \path [isa] (intratransport) -- (transport);
        \path [isa] (intratransport) -- (estlocincell);
        \path [isa] (posregtransport) -- (regtransport);
        \path [isa] (posregtransport) -- (posregbp);
        \path [isa] (regintratransport) -- (regtransport);
        \path [isa] (regintratransport) -- (regcellloc);
        \path [isa] (posregintratransport) -- (regintratransport);
        \path [isa] (posregintratransport) -- (posregtransport);
        \path [isa] (spindleloc) -- (orgloc);
        \path [isa] (estspindleloc) -- (spindleloc);
        \path [isa] (estspindleloc) -- (estorgloc);
        \path [isa] (estcellpol) -- (eomcp);
        \path [isa] (mpc) -- (estchromloc);
        \path [isa] (estmsloc) -- (estspindleloc);
        \path [isa] (estspindleorient) -- (estspindleloc);
        \path [isa] (regmpc) -- (regloc);
        \path [isa] (estmsorient) -- (estmsloc);
        \path [isa] (estmsorient) -- (estspindleorient);
        \path [isa] (macroloc) -- (localization);
        \path [isa] (orgloc) -- (cellloc);
        \path [isa] (cmacroloc) -- (macroloc);
        \path [isa] (cmacroloc) -- (cellloc);
        \path [isa] (estorgloc) -- (orgloc);
        \path [isa] (estorgloc) -- (estlocincell);
        \path [isa] (chromloc) -- (orgloc);
        \path [isa] (protloc) -- (macroloc);
        \path [isa] (estchromloc) -- (estorgloc);
        \path [isa] (estchromloc) -- (chromloc);
        \path [isa] (regprotloc) -- (regloc);
        \path [isa] (plcp) -- (protloc);
        \path [isa] (plorg) -- (protloc);
        \path [isa] (posregprotloc) -- (regprotloc);
        \path [isa] (posregprotloc) -- (posregbp);
        \path [isa] (regplcp) -- (regprotloc);
        \path [isa] (plcc) -- (plcp);
        \path [isa] (plcytosk) -- (plorg);
        \path [isa] (posregplcp) -- (regplcp);
        \path [isa] (posregplcp) -- (posregprotloc);
        \path [isa] (regplcc) -- (regplcp);
        \path [isa] (plmtcytosk) -- (plcytosk);
        \path [isa] (posregplcc) -- (regplcc);
        \path [isa] (posregplcc) -- (posregplcp);
        \path [isa] (plmtoc) -- (plmtcytosk);
        \path [isa] (plspb) -- (plmtoc);
        \path [isa] (regplspb) -- (regprotloc);
        \path [isa] (posregplspb) -- (regplspb);
        \path [isa] (posregplspb.north west) .. controls (5880,860) and (5830,600) .. (posregprotloc.south);
        \path [isa] (regmop) -- (regbp);
        \path [isa] (posregmop) -- (regmop);
        \path [isa] (posregmop) -- (posregbp);
        \path [isa] (molting) -- (mop);
        \path [isa] (haircycle) -- (molting);
        \path [isa] (reghc) -- (regmop);
        \path [isa] (hcp) -- (mcp);
        \path [isa] (celldevproc) -- (devproc);
        \path [isa] (celldevproc) -- (cellproc);
        \path [isa] (regdevproc) -- (regbp);
        \path [isa] (celldiff) -- (celldevproc);
        \path [isa] (posregdevproc) -- (regdevproc);
        \path [isa] (posregdevproc) -- (posregbp);
        \path [isa] (regcelldiff) -- (regdevproc);
        \path [isa] (regcelldiff) -- (regcellproc);
        \path [isa] (regmod) -- (regdevproc);
        \path [isa] (regmod) -- (regmop);
        \path [isa] (epidev) -- (tissuedev);
        \path [isa] (posregcelldiff) -- (regcelldiff);
        \path [isa] (posregcelldiff) -- (posregdevproc);
        \path [isa] (ecd) -- (celldiff);
        \path [isa] (regepidev) -- (regmod);
        \path [isa] (hfd) -- (hcp);
        \path [isa] (hfd) -- (asd);
        \path [isa] (regecd) -- (regcelldiff);
        \path [isa] (posregepidev) -- (regepidev);
        \path [isa] (posregepidev) -- (posregdevproc);
        \path [isa] (reghfd) -- (regmod);
        \path [isa] (reghfd) -- (reghc);
        \path [isa] (posregecd) -- (regecd);
        \path [isa] (posregecd) -- (posregcelldiff);
        \path [isa] (regepicd) -- (regecd);
        \path [isa] (regepicd) -- (regepidev);
        \path [isa] (posreghfd) -- (reghfd);
        \path [isa] (posreghfd) -- (posregdevproc);
        \path [isa] (posreghfd) -- (posregmop);
        \path [isa] (posregepicd) -- (regepicd);
        \path [isa] (posregepicd) -- (posregecd);
        \path [isa] (posregepicd) -- (posregepidev);
        \path [isa] (posregkd) -- (regkd);
        \path [isa] (posregkd) -- (posregepicd);
        \path [isa] (regkd) -- (regepicd);
        \path [isa] (asd) -- (devproc);
        \path [isa] (tissuedev) -- (asd);
        \path [isa] (mod) -- (asd);
        \path [isa] (mod) -- (mop);
        \path [isa] (aod) -- (asd);
        \path [isa] (epidermisdev) -- (tissuedev);
        \path [isa] (skindev) -- (aod);
        \path [isa] (skinepidev) -- (epidermisdev);
        \path [isa] (skinepidev) -- (epidev);
        \path [isa] (epicd) -- (ecd);
        \path [isa] (kd) -- (epicd);
        \path [isa] (sysdev) -- (asd);
        \path [isa] (tubedev) -- (asd);
        \path [isa] (rsd) -- (sysdev);
        \path [isa] (rtd) -- (tubedev);
        \path [isa] (rtd.north east) .. controls (7660,360) and (7660,300) .. (aod.south);
        \path [isa] (lungdev.east) .. controls (7640,450) and (7700,330) .. (aod.south east);
        \path [isa] (lepd) -- (epidev);
        \path [isa] (lcd) -- (celldiff);
        \path [isa] (lecd) -- (lcd);
        \path [isa] (lecd) -- (ecd);

        \path [partof] (cca) -- (ccb);
        \path [partof] (spindleassem) -- (mitcc);
        \path [partof] (ccp) -- (cellcycle);
        \path [partof] (mitccp) -- (mitcc);
        \path [partof] (chromsep) -- (chromseg);
        \path [partof] (mscs) -- (mitnucdiv);
        \path [partof] (mse) -- (mscs);
        \path [partof] (mse) -- (msorg);
        \path [partof] (regmse) -- (regmscs);
        \path [partof] (sigtrans) -- (cellcomm);
        \path [partof] (sigtrans) -- (cellresp);
        \path [partof] (sigtrans) -- (signaling);
        \path [partof] (bmpsp) -- (cellrespbmp);
        \path [partof] (spindleelong) -- (spindleorg);
        \path [partof] (spindleelong.north) .. controls (4620,560) and (4560,500) .. (nucchromseg.south);
        \path [partof] (mpc) -- (nucchromseg);
        \path [partof] (estlocincell) -- (cellloc);
        \path [partof] (estspindleorient) -- (estcellpol);
        \path [partof] (mcp) -- (molting);
        \path [partof] (hcp) -- (haircycle);
        \path [partof] (ecd) -- (epidev);
        \path [partof] (hfd) -- (skinepidev);
        \path [partof] (epicd.east) .. controls (7260,440) and (7280,370) .. (epidermisdev.south);
        \path [partof] (kd) -- (skindev);
        \path [partof] (skinepidev) -- (skindev);
        \path [partof] (sysdev) -- (mod);
        \path [partof] (tubedev) -- (mod);
        \path [partof] (lungdev) -- (rsd);
        \path [partof] (lungdev) -- (rtd);
        \path [partof] (lepd) -- (lungdev);
        \path [partof] (lcd) -- (lungdev);
        \path [partof] (lecd) -- (lepd);

        \path [regl] (regbp) -- (bp);
        \path [regl] (regcellproc) -- (cellproc);
        \path [regl] (regcco) -- (cco);
        \path [regl] (regccb) -- (ccb);
        \path [regl] (regorgorg) -- (orgorg);
        \path [regl] (regcytoskorg) -- (cytoskorg);
        \path [regl] (regorgassem) -- (orgassembly);
        \path [regl] (regchromorg) -- (chromorg);
        \path [regl] (regmtcytoskorg) -- (mtcytoskorg);
        \path [regl] (regpcca) -- (pcca);
        \path [regl] (regsfo) -- (sfo);
        \path [regl] (regprotpoly) -- (protpoly);
        \path [regl] (regmtpoly) -- (mtpoly);
        \path [regl] (regmtpd) -- (mtpolydepoly);
        \path [regl] (regspindleorg) -- (spindleorg);
        \path [regl] (regspindleassem) -- (spindleassem);
        \path [regl] (regmsorg) -- (msorg);
        \path [regl] (regcc) -- (cellcycle);
        \path [regl] (regccp) -- (ccp);
        \path [regl] (regchromseg) -- (chromseg);
        \path [regl] (regchromsep) -- (chromsep);
        \path [regl] (regscs) -- (scs);
        \path [regl] (regmscs) -- (mscs);
        \path [regl] (regmse) -- (mse);
        \path [regl] (regcellcomm) -- (cellcomm);
        \path [regl] (regresp) -- (resp);
        \path [regl] (regsig) -- (signaling);
        \path [regl] (regsigtrans) -- (sigtrans);
        \path [regl] (regtmrpstk) -- (tmrpstk);
        \path [regl] (regbmp) -- (bmpsp);
        \path [regl] (regmtbp) -- (mtbp);
        \path [regl] (regspindleelong) -- (spindleelong);
        \path [regl] (regcrgf) -- (crgf);
        \path [regl] (regloc.north) .. controls (5560,150) and (5620,110) .. (localization.west);
        \path [regl] (regcellloc) -- (cellloc);
        \path [regl] (regtransport) -- (transport);
        \path [regl] (regintratransport) -- (intratransport);
        \path [regl] (regmpc) -- (mpc);
        \path [regl] (regprotloc) -- (protloc);
        \path [regl] (regplcp) -- (plcp);
        \path [regl] (regplcc) -- (plcc);
        \path [regl] (regplspb) -- (plspb);
        \path [regl] (regmop) -- (mop);
        \path [regl] (reghc) -- (haircycle);
        \path [regl] (regdevproc) -- (devproc);
        \path [regl] (regcelldiff) -- (celldiff);
        \path [regl] (regmod) -- (mod);
        \path [regl] (regepidev) -- (epidermisdev);
        \path [regl] (regecd) -- (ecd);
        \path [regl] (reghfd) -- (hfd);
        \path [regl] (regepicd) -- (epicd);
        \path [regl] (regkd) -- (kd);

        \path [posregl] (posregbp) -- (bp);
        \path [posregl] (posregcellproc) -- (cellproc);
        \path [posregl] (poscco.north west) .. controls (2570,330) and (2580,270) .. (cco.south west);
        \path [posregl] (posccb) -- (ccb);
        \path [posregl] (posorgorg.north) .. controls (2890,360) and (2950,320) .. (orgorg.west);
        \path [posregl] (poscytoskorg) -- (cytoskorg);
        \path [posregl] (posorgassem) -- (orgassembly);
        \path [posregl] (poschromorg) -- (chromorg);
        \path [posregl] (pospcca) -- (pcca);
        \path [posregl] (possfo) -- (sfo);
        \path [posregl] (posprotpoly.north west) .. controls (2440,600) and (2400,540) .. (protpoly.south);
        \path [posregl] (posmtpoly.north west) .. controls (2370,790) and (2360,720) .. (mtpoly.south);
        \path [posregl] (posmtpd) -- (mtpolydepoly);
        \path [posregl] (posspindleassem) -- (spindleassem);
        \path [posregl] (posregcc) -- (cellcycle);
        \path [posregl] (posregccp) -- (ccp);
        \path [posregl] (posregchromseg) -- (chromseg);
        \path [posregl] (posregchromsep) -- (chromsep);
        \path [posregl] (posregmscs) -- (mscs);
        \path [posregl] (posregmse.north east) .. controls (4250,880) and (4260,810) .. (mse.south);
        \path [posregl] (posregcellcomm.north west) .. controls (4530,330) and (4560,260) .. (cellcomm.south west);
        \path [posregl] (posregresp) -- (resp);
        \path [posregl] (posregsig) -- (signaling);
        \path [posregl] (posregsigtrans) -- (sigtrans);
        \path [posregl] (posregtmrpstk) -- (tmrpstk);
        \path [posregl] (posregbmp) -- (bmpsp);
        \path [posregl] (posregtransport.north east) .. controls (5720,350) and (5710,290) .. (transport.south);
        \path [posregl] (posregintratransport) -- (intratransport);
        \path [posregl] (posregprotloc) -- (protloc);
        \path [posregl] (posregplcp.north east) .. controls (6110,510) and (6110,440) .. (plcp.south);
        \path [posregl] (posregplcc.north east) .. controls (6240,620) and (6210,520) .. (plcc.south);
        \path [posregl] (posregplspb.north east) .. controls (6000,880) and (6020,820) .. (plspb.south);
        \path [posregl] (posregmop.north west) .. controls (6200,250) and (6230,190) .. (mop.south west);
        \path [posregl] (posregdevproc) -- (devproc);
        \path [posregl] (posregcelldiff) -- (celldiff);
        \path [posregl] (posregepidev) -- (epidermisdev);
        \path [posregl] (posregecd) -- (ecd);
        \path [posregl] (posreghfd.north east) .. controls (6700,600) and (6690,520) .. (hfd.south);
        \path [posregl] (posregepicd) -- (epicd);
        \path [posregl] (posregkd) -- (kd);
        \end{pgfonlayer}
    \end{tikzpicture}
\end{document}
